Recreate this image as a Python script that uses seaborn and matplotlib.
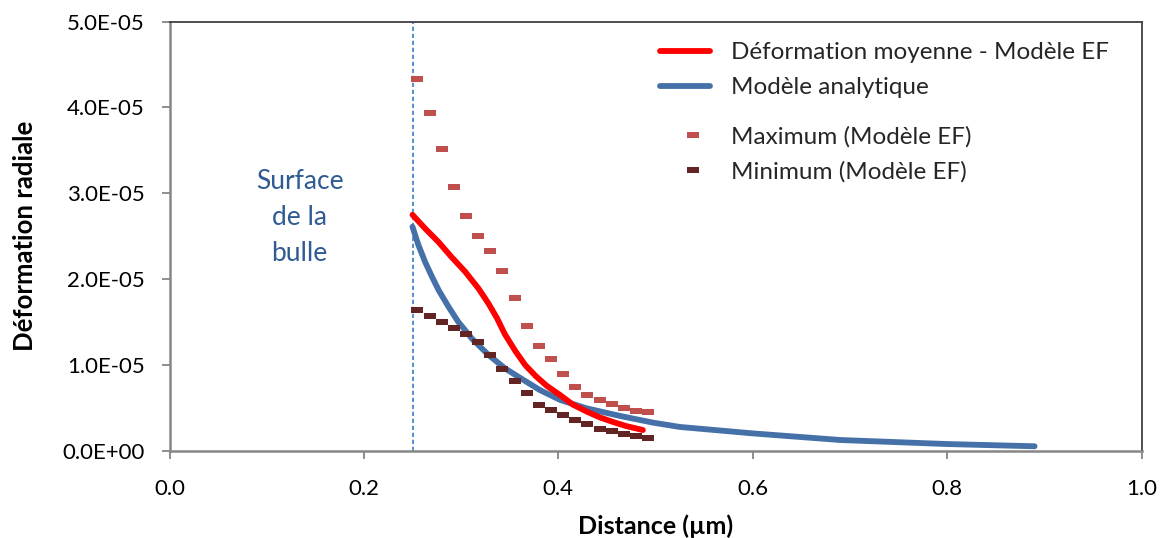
import matplotlib
matplotlib.use("Agg")
import matplotlib.pyplot as plt
from matplotlib.lines import Line2D
from matplotlib.markers import MarkerStyle
from matplotlib.path import Path
from matplotlib.ticker import FuncFormatter
import seaborn as sns

# ---- data ----
mean_x = [0.250, 0.263, 0.277, 0.290, 0.304, 0.318, 0.328, 0.337, 0.345,
          0.356, 0.366, 0.377, 0.388, 0.402, 0.415, 0.429, 0.443, 0.457,
          0.470, 0.487]
mean_y = [2.75e-5, 2.59e-5, 2.43e-5, 2.26e-5, 2.09e-5, 1.89e-5, 1.72e-5,
          1.545e-5, 1.36e-5, 1.16e-5, 1.00e-5, 0.87e-5, 0.76e-5, 0.65e-5,
          0.54e-5, 0.46e-5, 0.39e-5, 0.335e-5, 0.29e-5, 0.244e-5]

ana_x = [0.250, 0.256, 0.263, 0.270, 0.277, 0.287, 0.297, 0.311, 0.328,
         0.345, 0.363, 0.381, 0.402, 0.429, 0.464, 0.498, 0.525, 0.600,
         0.690, 0.800, 0.890]
ana_y = [2.61e-5, 2.40e-5, 2.20e-5, 2.03e-5, 1.87e-5, 1.68e-5, 1.505e-5,
         1.31e-5, 1.12e-5, 0.963e-5, 0.835e-5, 0.71e-5, 0.594e-5, 0.497e-5,
         0.407e-5, 0.329e-5, 0.28e-5, 0.205e-5, 0.128e-5, 0.081e-5, 0.055e-5]

fe_x = [0.2550, 0.2675, 0.2800, 0.2925, 0.3050, 0.3175, 0.3300, 0.3425,
        0.3550, 0.3675, 0.3800, 0.3925, 0.4050, 0.4175, 0.4300, 0.4425,
        0.4550, 0.4675, 0.4800, 0.4925]
max_y = [4.33e-5, 3.93e-5, 3.51e-5, 3.07e-5, 2.74e-5, 2.50e-5, 2.33e-5,
         2.09e-5, 1.78e-5, 1.45e-5, 1.22e-5, 1.07e-5, 0.90e-5, 0.75e-5,
         0.65e-5, 0.59e-5, 0.55e-5, 0.50e-5, 0.46e-5, 0.45e-5]
min_y = [1.64e-5, 1.57e-5, 1.50e-5, 1.43e-5, 1.36e-5, 1.27e-5, 1.12e-5,
         0.95e-5, 0.82e-5, 0.67e-5, 0.54e-5, 0.48e-5, 0.42e-5, 0.36e-5,
         0.31e-5, 0.26e-5, 0.23e-5, 0.20e-5, 0.175e-5, 0.15e-5]

surface_x = 0.25
x_ticks = [0.0, 0.2, 0.4, 0.6, 0.8, 1.0]
y_ticks = [0.0, 1e-5, 2e-5, 3e-5, 4e-5, 5e-5]

labels = ["Déformation moyenne - Modèle EF", "Modèle analytique",
          "Maximum (Modèle EF)", "Minimum (Modèle EF)"]

# ---- style ----
sns.set_theme(style="white")
plt.rcParams["font.family"] = ["Lato", "DejaVu Sans"]

RED = "#FF0000"
BLUE = "#4571A8"
MAXC = "#C0504D"
MINC = "#632523"
TXT = "#000000"
LW = 4.2

W, H = 1162, 538
fig = plt.figure(figsize=(W / 100, H / 100), dpi=100)
fig.patch.set_facecolor("white")
ax = fig.add_axes([169.5 / W, 1 - 451 / H, 972 / W, (451 - 21.5) / H])

dash_marker = MarkerStyle(Path([(-1, -0.45), (1, -0.45), (1, 0.45), (-1, 0.45), (-1, -0.45)],
                               [Path.MOVETO, Path.LINETO, Path.LINETO, Path.LINETO, Path.CLOSEPOLY]))

ax.axvline(surface_x, color="#5B8FD0", lw=1.4, ls=(0, (2.2, 1.4)), zorder=1)

sns.lineplot(x=ana_x, y=ana_y, ax=ax, color=BLUE, lw=LW, sort=False,
             estimator=None, solid_capstyle="round", solid_joinstyle="round", zorder=3)
sns.lineplot(x=mean_x, y=mean_y, ax=ax, color=RED, lw=LW, sort=False,
             estimator=None, solid_capstyle="round", solid_joinstyle="round", zorder=4)
sns.scatterplot(x=fe_x, y=max_y, ax=ax, marker=dash_marker, s=68, color=MAXC,
                linewidth=0, zorder=2)
sns.scatterplot(x=fe_x, y=min_y, ax=ax, marker=dash_marker, s=68, color=MINC,
                linewidth=0, zorder=5)

ax.set_xlim(0, 1.0)
ax.set_ylim(0, 5e-5)
ax.set_xticks(x_ticks)
ax.set_yticks(y_ticks)
ax.xaxis.set_major_formatter(FuncFormatter(lambda v, p: f"{v:.1f}"))
ax.yaxis.set_major_formatter(FuncFormatter(lambda v, p: f"{v:.1E}"))

for side in ["left", "bottom"]:
    ax.spines[side].set_color("#868686")
    ax.spines[side].set_linewidth(1.8)
for side in ["top", "right"]:
    ax.spines[side].set_color("#404040")
    ax.spines[side].set_linewidth(1.3)
    ax.spines[side].set_visible(True)

ax.tick_params(axis="both", which="major", direction="out", length=6,
               width=1.3, color="#868686", labelsize=16, labelcolor=TXT,
               left=True, bottom=True)
ax.tick_params(axis="y", pad=12)
ax.tick_params(axis="x", pad=14)

ax.set_xlabel("Distance (µm)", fontsize=18, fontweight="bold", color=TXT, labelpad=11)
ax.set_ylabel("Déformation radiale", fontsize=18.5, fontweight="bold", color=TXT, labelpad=18)

ax.text(0.134, 2.72e-5, "Surface\nde la\nbulle", ha="center", va="center",
        fontsize=19, color="#2F5B92", linespacing=1.55)

# ---- legends (two groups, as in the reference) ----
h_lines = [Line2D([], [], color=RED, lw=LW, solid_capstyle="round"),
           Line2D([], [], color=BLUE, lw=LW, solid_capstyle="round")]
h_marks = [Line2D([], [], ls="none", marker=dash_marker, markersize=8.2,
                  color=MAXC, markeredgewidth=0),
           Line2D([], [], ls="none", marker=dash_marker, markersize=8.2,
                  color=MINC, markeredgewidth=0)]

leg1 = ax.legend(h_lines, labels[:2], loc="upper left",
                 bbox_to_anchor=(660 / W, 1 - 42 / H), bbox_transform=fig.transFigure,
                 frameon=False, fontsize=17.5, handlelength=2.06, handletextpad=0.86,
                 labelspacing=0.58, borderaxespad=0, borderpad=0)
ax.add_artist(leg1)
leg2 = ax.legend(h_marks, labels[2:], loc="upper left",
                 bbox_to_anchor=(676 / W, 1 - 126 / H), bbox_transform=fig.transFigure,
                 frameon=False, fontsize=17.5, handlelength=1.4, handletextpad=0.86,
                 labelspacing=0.55, borderaxespad=0, borderpad=0)

fig.savefig("out.png", dpi=100, facecolor="white")
